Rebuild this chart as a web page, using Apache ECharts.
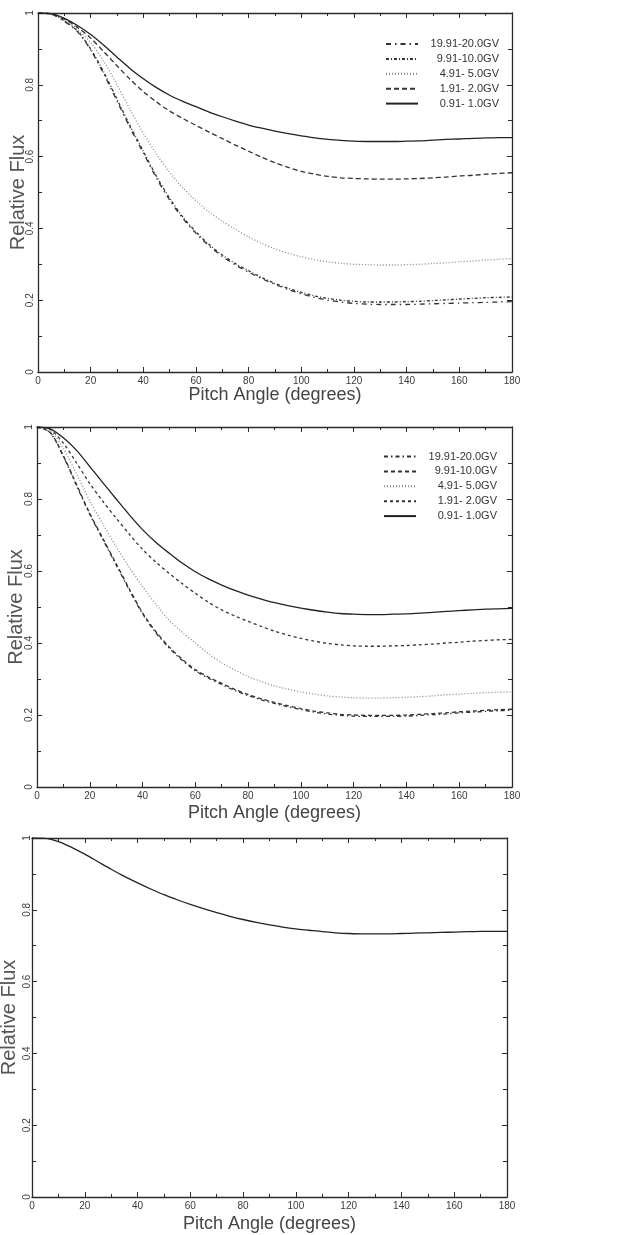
<!DOCTYPE html>
<html>
<head>
<meta charset="utf-8">
<script src="https://cdn.jsdelivr.net/npm/echarts@6/dist/echarts.min.js"></script>
<style>
html,body{margin:0;padding:0;background:#fff;}
#chart{width:620px;height:1235px;}
</style>
</head>
<body>
<div id="chart"></div>
<script>
// ---- data (pitch angle every 5 degrees) ----
const angles = [0,5,10,15,20,25,30,35,40,45,50,55,60,65,70,75,80,85,90,95,100,105,110,115,120,125,130,135,140,145,150,155,160,165,170,175,180];
const seriesNames = ['19.91-20.0GV','9.91-10.0GV','4.91- 5.0GV','1.91- 2.0GV','0.91- 1.0GV'];

// panel 1
const p1_gv20 = [1,0.997,0.977,0.948,0.897,0.83,0.755,0.68,0.61,0.54,0.479,0.428,0.386,0.351,0.322,0.298,0.278,0.26,0.244,0.23,0.218,0.208,0.2,0.195,0.191,0.189,0.188,0.188,0.188,0.189,0.19,0.191,0.192,0.193,0.194,0.195,0.196];
const p1_gv10 = [1,0.997,0.978,0.95,0.9,0.835,0.76,0.685,0.615,0.545,0.484,0.432,0.39,0.355,0.326,0.302,0.282,0.263,0.247,0.233,0.222,0.212,0.205,0.2,0.197,0.195,0.195,0.195,0.196,0.197,0.199,0.201,0.203,0.205,0.207,0.208,0.209];
const p1_gv5  = [1,0.997,0.98,0.955,0.918,0.865,0.8,0.73,0.665,0.607,0.556,0.513,0.477,0.446,0.42,0.397,0.376,0.358,0.343,0.331,0.321,0.313,0.307,0.303,0.3,0.299,0.298,0.298,0.299,0.3,0.302,0.304,0.307,0.309,0.312,0.314,0.316];
const p1_gv2  = [1,0.998,0.983,0.96,0.93,0.892,0.853,0.815,0.781,0.752,0.727,0.706,0.687,0.668,0.65,0.632,0.615,0.598,0.583,0.57,0.559,0.551,0.545,0.541,0.539,0.538,0.537,0.537,0.538,0.539,0.541,0.543,0.546,0.548,0.551,0.553,0.555];
const p1_gv1  = [1,0.998,0.985,0.965,0.94,0.91,0.877,0.845,0.817,0.792,0.771,0.754,0.739,0.724,0.711,0.699,0.688,0.679,0.671,0.664,0.658,0.652,0.648,0.645,0.643,0.642,0.642,0.642,0.643,0.644,0.646,0.648,0.649,0.651,0.652,0.653,0.653];

// panel 2
const p2_gv20 = [1,0.984,0.918,0.837,0.757,0.687,0.617,0.547,0.481,0.429,0.387,0.352,0.323,0.302,0.285,0.268,0.254,0.242,0.232,0.223,0.215,0.208,0.203,0.199,0.197,0.196,0.196,0.196,0.197,0.199,0.201,0.203,0.206,0.208,0.21,0.212,0.213];
const p2_gv10 = [1,0.985,0.92,0.84,0.76,0.69,0.62,0.55,0.484,0.432,0.39,0.355,0.326,0.305,0.288,0.271,0.257,0.245,0.235,0.226,0.218,0.211,0.206,0.202,0.2,0.199,0.199,0.199,0.2,0.202,0.204,0.206,0.209,0.211,0.213,0.215,0.216];
const p2_gv5  = [1,0.99,0.94,0.87,0.795,0.73,0.668,0.61,0.557,0.508,0.464,0.43,0.4,0.37,0.345,0.325,0.307,0.293,0.281,0.272,0.264,0.258,0.253,0.25,0.248,0.247,0.247,0.248,0.249,0.251,0.253,0.256,0.258,0.26,0.262,0.263,0.264];
const p2_gv2  = [1,0.993,0.955,0.9,0.843,0.793,0.747,0.702,0.66,0.625,0.594,0.565,0.538,0.513,0.492,0.475,0.46,0.446,0.433,0.422,0.413,0.405,0.399,0.395,0.392,0.391,0.391,0.392,0.393,0.395,0.397,0.4,0.402,0.405,0.407,0.409,0.41];
const p2_gv1  = [1,0.995,0.97,0.935,0.89,0.845,0.8,0.756,0.715,0.68,0.65,0.622,0.598,0.578,0.561,0.546,0.533,0.522,0.512,0.504,0.497,0.491,0.486,0.482,0.48,0.479,0.479,0.48,0.481,0.483,0.485,0.488,0.49,0.492,0.494,0.495,0.496];

// panel 3
const p3_gv1  = [1,0.999,0.99,0.974,0.955,0.934,0.913,0.893,0.875,0.858,0.842,0.828,0.815,0.803,0.792,0.782,0.773,0.765,0.758,0.752,0.747,0.743,0.739,0.736,0.734,0.733,0.733,0.733,0.734,0.735,0.736,0.737,0.738,0.739,0.74,0.74,0.74];

// ---- chart ----
const ink = '#2a2a2a';
const txt = '#3a3a3a';
function pairs(vals){ return angles.map((a,i)=>[a, vals[i]]); }

const grids = [
  {left:38, top:13, width:474, height:359, outerBoundsMode:'none', containLabel:false},
  {left:37, top:427, width:475, height:360, outerBoundsMode:'none', containLabel:false},
  {left:32, top:838, width:475, height:359, outerBoundsMode:'none', containLabel:false}
];
const xNameGaps = [14, 17, 18];
const yNameGaps = [10, 11, 13];
const yLabelMargins = [3, 3, 0];

const xAxes = [], yAxes = [];
grids.forEach((g,i)=>{
  const common = {
    gridIndex:i, type:'value', min:0, max:180, interval:20,
    axisLine:{show:true, onZero:false, lineStyle:{color:ink, width:1.3}},
    axisTick:{show:true, inside:true, length:5, lineStyle:{color:ink}},
    minorTick:{show:true, splitNumber:2, length:3, lineStyle:{color:ink}},
    splitLine:{show:false}
  };
  xAxes.push(Object.assign({}, common, {
    position:'bottom',
    axisLabel:{show:true, margin:4, fontSize:10, fontFamily:'Liberation Sans', color:txt},
    name:'Pitch Angle (degrees)', nameLocation:'middle', nameGap:xNameGaps[i], nameMoveOverlap:false,
    nameTextStyle:{fontSize:18, fontFamily:'Liberation Sans', color:'#444'}
  }));
  xAxes.push(Object.assign({}, common, {position:'top', axisLabel:{show:false}}));
  const ycommon = {
    gridIndex:i, type:'value', min:0, max:1, interval:0.2,
    axisLine:{show:true, onZero:false, lineStyle:{color:ink, width:1.3}},
    axisTick:{show:true, inside:true, length:5, lineStyle:{color:ink}},
    minorTick:{show:true, splitNumber:2, length:4, lineStyle:{color:ink}},
    splitLine:{show:false}
  };
  yAxes.push(Object.assign({}, ycommon, {
    position:'left',
    axisLabel:{show:true, rotate:90, margin:yLabelMargins[i], fontSize:10, fontFamily:'Liberation Sans', color:txt,
      formatter:v=>String(v)},
    name:'Relative Flux', nameLocation:'middle', nameRotate:90, nameGap:yNameGaps[i], nameMoveOverlap:false,
    nameTextStyle:{fontSize:20, fontFamily:'Liberation Sans', color:'#555'}
  }));
  yAxes.push(Object.assign({}, ycommon, {position:'right', axisLabel:{show:false}}));
});

const styleP1 = [
  {type:[5,4,1.5,4], color:'#333'},
  {type:[3,2,1,2], color:'#333'},
  {type:[1,2], color:'#888'},
  {type:[5,3], color:'#333'},
  {type:'solid', color:'#222'}
];
const styleP2 = [
  {type:[4,3,1.5,3], color:'#333'},
  {type:[4,3], color:'#333'},
  {type:[1,2], color:'#888'},
  {type:[3,3], color:'#333'},
  {type:'solid', color:'#222'}
];
const p1Data = [p1_gv20, p1_gv10, p1_gv5, p1_gv2, p1_gv1];
const p2Data = [p2_gv20, p2_gv10, p2_gv5, p2_gv2, p2_gv1];

const series = [];
p1Data.forEach((d,k)=>{
  series.push({name:seriesNames[k], type:'line', xAxisIndex:0, yAxisIndex:0, data:pairs(d),
    smooth:0.3, symbol:'none', silent:true,
    lineStyle:{type:styleP1[k].type, color:styleP1[k].color, width:1.3}, itemStyle:{color:styleP1[k].color}});
});
p2Data.forEach((d,k)=>{
  series.push({name:seriesNames[k]+' ', type:'line', xAxisIndex:2, yAxisIndex:2, data:pairs(d),
    smooth:0.3, symbol:'none', silent:true,
    lineStyle:{type:styleP2[k].type, color:styleP2[k].color, width:1.3}, itemStyle:{color:styleP2[k].color}});
});
series.push({name:'p3', type:'line', xAxisIndex:4, yAxisIndex:4, data:pairs(p3_gv1),
  smooth:0.3, symbol:'none', silent:true, lineStyle:{type:'solid', color:'#222', width:1.3}});

function legendCfg(names, left, top){
  return {
    orient:'vertical', left:left, top:top, padding:0, itemWidth:32, itemHeight:8, itemGap:3.9,
    selectedMode:false, data:names,
    itemStyle:{opacity:0},
    formatter:n=>'{a|'+n.trim()+'}',
    textStyle:{color:'#333', fontSize:11, fontFamily:'Liberation Sans',
      rich:{a:{width:76, align:'right', fontSize:11, fontFamily:'Liberation Sans', color:'#333', lineHeight:12}}}
  };
}

const chart = echarts.init(document.getElementById('chart'), null, {renderer:'canvas'});
chart.setOption({
  animation:false,
  backgroundColor:'#fff',
  grid:grids,
  xAxis:xAxes,
  yAxis:yAxes,
  legend:[
    legendCfg(seriesNames, 385, 38.5),
    legendCfg(seriesNames.map(n=>n+' '), 383, 451)
  ],
  series:series
});
</script>
</body>
</html>
